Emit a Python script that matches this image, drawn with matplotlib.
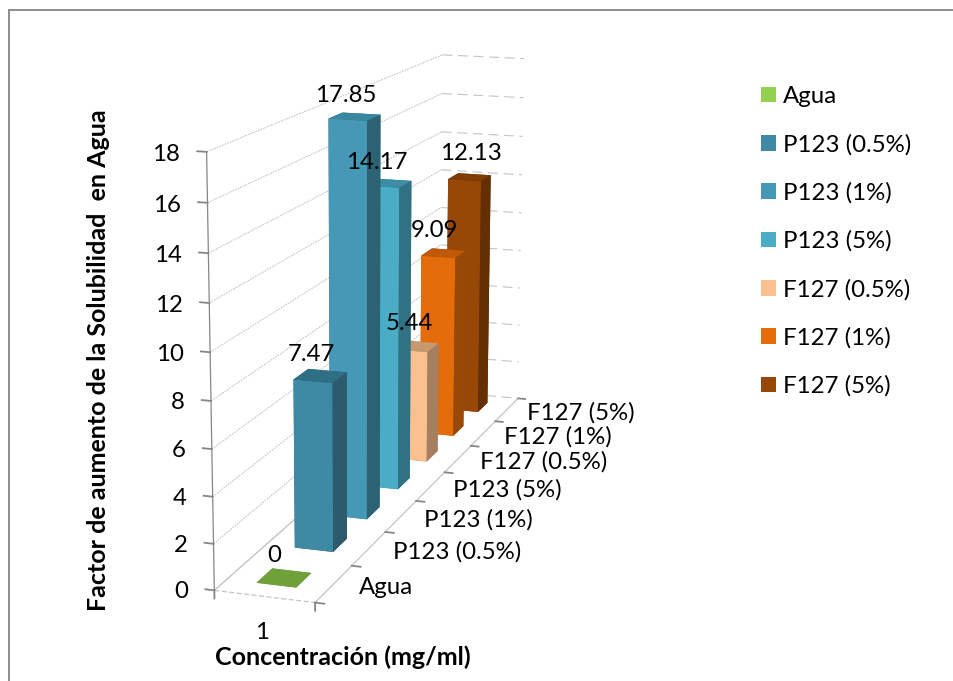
import numpy as np
import matplotlib
matplotlib.use("Agg")
import matplotlib.pyplot as plt
from matplotlib.patches import Patch, Rectangle
from mpl_toolkits.mplot3d import Axes3D  # noqa: F401

plt.rcParams['font.family'] = ['Lato', 'DejaVu Sans']

W, H = 954, 681
series = ["Agua", "P123 (0.5%)", "P123 (1%)", "P123 (5%)", "F127 (0.5%)", "F127 (1%)", "F127 (5%)"]
values = [0, 7.47, 17.85, 14.17, 5.44, 9.09, 12.13]
labels = ["0", "7.47", "17.85", "14.17", "5.44", "9.09", "12.13"]
yticks = [0, 2, 4, 6, 8, 10, 12, 14, 16, 18]
category = "1"
front_colors = ["#70A03A", "#3E8AA5", "#4699B6", "#4BACC6", "#FAC090", "#E46C0A", "#974706"]
side_colors = ["#70A03A", "#2B5B6C", "#2B6375", "#317184", "#A67F60", "#984807", "#632F03"]
top_colors = ["#70A03A", "#2F6F85", "#3A88A0", "#3D8EA5", "#C8986F", "#C05A08", "#7F3C05"]
legend_colors = ["#92D050", "#3E8AA5", "#4699B6", "#4BACC6", "#FAC090", "#E46C0A", "#974706"]
label_nudge = [(-2, 0), (-1, 1), (-1, 1), (-3, 1), (0, -3), (-2, -3), (8, -5)]

# Camera calibration: world point (x, y, z) -> image pixel of the reference chart
calib = [
    (0, 0, 0, 214, 589), (1, 0, 0, 312, 603), (1, 1, 0, 517, 398), (0, 1, 0, 438, 392.5),
    (0, 0, 18, 207, 153), (1, 1, 18, 523, 58), (0, 1, 18, 445, 54),
    (0, 0, 16, 207, 203), (0, 0, 12, 209, 303), (0, 0, 8, 211, 401), (0, 0, 4, 212, 496),
    (1, 1, 16, 523, 98), (1, 1, 12, 522, 175), (1, 1, 8, 520, 251), (1, 1, 4, 518, 325),
    (1, 1/7, 0, 353, 566), (1, 2/7, 0, 387, 532), (1, 3/7, 0, 417, 501),
    (1, 4/7, 0, 446, 472), (1, 5/7, 0, 472, 446), (1, 6/7, 0, 497, 421),
]
A = []
for x, y, z, u, v in calib:
    A.append([x, y, z, 1, 0, 0, 0, 0, -u*x, -u*y, -u*z, -u])
    A.append([0, 0, 0, 0, x, y, z, 1, -v*x, -v*y, -v*z, -v])
P = np.linalg.svd(np.array(A, float))[2][-1].reshape(3, 4)
P /= P[2, 3]
# depth row: larger means farther, so hidden faces are painted first
M = np.vstack([P[0], P[1], [-0.3, 1.0, -0.01, 0.0], P[2]])


def project(x, y, z):
    u, v, w = P @ np.array([x, y, z, 1.0])
    return u / w, v / w


fig = plt.figure(figsize=(W/100, H/100), dpi=100)
ax = fig.add_axes([0, 0, 1, 1], projection='3d')
ax.set_axis_off()
ax.computed_zorder = False
ax.get_proj = lambda: M
ax.apply_aspect = lambda position=None: None
ax.viewLim.intervalx = (0, W)
ax.viewLim.intervaly = (H, 0)
ax.M = M
ax._focal_length = np.inf
ax.patch.set_visible(False)


def label(x, y, z, s, dx=0, dy=0, **kw):
    u, v = project(x, y, z)
    fig.text((u + dx)/W, 1 - (v + dy)/H, s, va='center', fontsize=17.3, color='black', zorder=20, **kw)


GRID = "#C4C4C4"
AXIS = "#868686"
# walls
for t in yticks:
    ax.plot([0, 0], [0, 1], [t, t], color=GRID, lw=0.8, ls=(0, (1.5, 1)), zorder=1)
    ax.plot([0, 1], [1, 1], [t, t], color=GRID, lw=0.8, ls=(0, (9, 5)), zorder=1)
    ax.plot([0, -0.09], [0, 0], [t, t], color=AXIS, lw=1.3, zorder=2)
    label(-0.22, 0, t, str(t), dx=-4, dy=4, ha='right')
ax.plot([0, 1], [0, 0], [0, 0], color=GRID, lw=0.9, ls=(0, (4, 2)), zorder=1)
ax.plot([1, 1], [0, 1], [0, 0], color=GRID, lw=0.9, zorder=1)
ax.plot([0, 0], [0, 1], [0, 0], color=GRID, lw=0.9, zorder=1)
ax.plot([0, 0], [0, 0], [0, 18], color=AXIS, lw=0.9, zorder=2)
for i in range(len(series) + 1):
    ax.plot([1, 1.09], [i/7, i/7], [0, 0], color=AXIS, lw=1.3, zorder=2)
for xv in (0, 1):
    ax.plot([xv, xv], [0, 0], [0, -0.35], color=AXIS, lw=1.3, zorder=2)

# bars
BAR_X0, BAR_W, BAR_D0, BAR_D = 0.30, 0.40, 0.30, 0.40
for i, val in enumerate(values):
    faces = [side_colors[i], top_colors[i], front_colors[i], side_colors[i], side_colors[i], side_colors[i]]
    ax.bar3d(BAR_X0, (i + BAR_D0)/7, 0, BAR_W, BAR_D/7, val, color=faces, shade=False,
             edgecolor=None, linewidth=0, zorder=10 - i)

# data labels
for i, (val, txt) in enumerate(zip(values, labels)):
    dx, dy = label_nudge[i]
    label(0.42, (i + 0.5)/7, val + 0.95, txt, dx=dx, dy=dy, ha='center')

# depth axis labels
for i, name in enumerate(series):
    label(1.25, (i + 0.5)/7, 0, name, dy=1, ha='left')
label(0.5, 0, -1.5, category, dx=-3, dy=1, ha='center')

fig.text(99/W, 1 - 360/H, "Factor de aumento de la Solubilidad  en Agua", rotation=90,
         ha='center', va='center', fontsize=18, fontweight='bold')
fig.text(343/W, 1 - 657/H, "Concentración (mg/ml)", ha='center', va='center', fontsize=18, fontweight='bold')

handles = [Patch(facecolor=c, edgecolor='none', label=s) for c, s in zip(legend_colors, series)]
fig.legend(handles=handles, loc='upper left', bbox_to_anchor=(761/W, 1 - 86/H), frameon=False,
           fontsize=17.3, handlelength=0.62, handleheight=0.62, handletextpad=0.28,
           labelspacing=1.115, borderpad=0, borderaxespad=0)

fig.add_artist(Rectangle((9/W, -0.01), (W + 10 - 9)/W, (H - 10)/H + 0.01, transform=fig.transFigure,
                         facecolor='none', edgecolor='#8C8C8C', lw=1.4))
fig.savefig("out.png", dpi=100)
